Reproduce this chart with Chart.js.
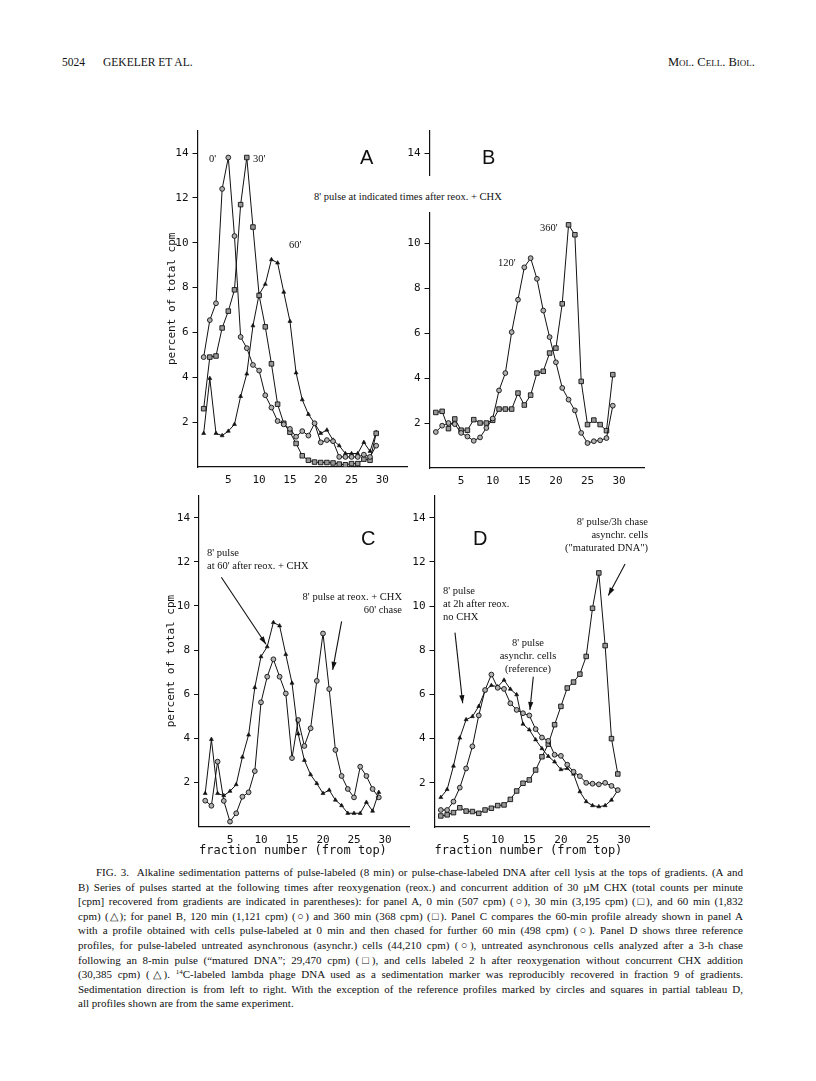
<!DOCTYPE html>
<html>
<head>
<meta charset="utf-8">
<script src="https://cdn.jsdelivr.net/npm/chart.js@4.4.1/dist/chart.umd.min.js"></script>
<style>
  body { margin: 0; width: 816px; height: 1081px; background: #fff; position: relative; overflow: hidden;
         font-family: "Liberation Serif", "Times New Roman", serif; color: #111; }
  canvas { position: absolute; }
  .t { position: absolute; white-space: nowrap; font-size: 10.5px; line-height: 12px; }
  .letter { position: absolute; font-family: "Liberation Sans", Arial, sans-serif; font-size: 20px; line-height: 20px; }
  .hdr { position: absolute; top: 55px; font-size: 11.5px; line-height: 14px; }
  .cap { position: absolute; left: 78px; top: 865px; width: 665px; font-size: 11px; }
  .cap div { height: 14.6px; line-height: 14.6px; white-space: nowrap; text-align: justify; text-align-last: justify; }
  .cap sup { font-size: 7px; line-height: 0; vertical-align: baseline; position: relative; top: -4px; }
</style>
</head>
<body>

<div class="hdr" style="left:62px">5024</div>
<div class="hdr" style="left:103px">GEKELER ET AL.</div>
<div class="hdr" style="left:668px;font-size:12.5px;font-variant:small-caps">Mol. Cell. Biol.</div>

<canvas id="chartA" width="260" height="380" style="left:160px;top:120px"></canvas>
<canvas id="chartB" width="260" height="380" style="left:400px;top:120px"></canvas>
<canvas id="chartC" width="260" height="380" style="left:160px;top:485px"></canvas>
<canvas id="chartD" width="260" height="380" style="left:400px;top:485px"></canvas>

<!-- panel letters and labels -->
<div class="letter" style="left:360px;top:147px">A</div>
<div class="letter" style="left:482px;top:147px">B</div>
<div class="letter" style="left:361px;top:528px">C</div>
<div class="letter" style="left:473px;top:528px">D</div>

<div class="t" style="left:209px;top:153px">0'</div>
<div class="t" style="left:253px;top:153px">30'</div>
<div class="t" style="left:289px;top:239px">60'</div>
<div class="t" style="left:312px;top:176px;padding:15px 2px 9px 2px;background:#fff">8' pulse at indicated times after reox. + CHX</div>
<div class="t" style="left:498px;top:257px">120'</div>
<div class="t" style="left:540px;top:222px">360'</div>

<div class="t" style="left:207px;top:547px">8' pulse</div>
<div class="t" style="left:207px;top:560px">at 60' after reox. + CHX</div>
<div class="t" style="left:270px;top:591px;width:132px;text-align:right">8' pulse at reox. + CHX</div>
<div class="t" style="left:270px;top:604px;width:132px;text-align:right">60' chase</div>

<div class="t" style="left:540px;top:516px;width:108px;text-align:right">8' pulse/3h chase</div>
<div class="t" style="left:540px;top:529px;width:108px;text-align:right">asynchr. cells</div>
<div class="t" style="left:540px;top:542px;width:108px;text-align:right">("maturated DNA")</div>
<div class="t" style="left:443px;top:585px">8' pulse</div>
<div class="t" style="left:443px;top:598px">at 2h after reox.</div>
<div class="t" style="left:443px;top:611px">no CHX</div>
<div class="t" style="left:478px;top:637px;width:100px;text-align:center">8' pulse</div>
<div class="t" style="left:478px;top:650px;width:100px;text-align:center">asynchr. cells</div>
<div class="t" style="left:478px;top:663px;width:100px;text-align:center">(reference)</div>

<div class="cap">
  <div style="padding-left:18px">FIG. 3.&nbsp; Alkaline sedimentation patterns of pulse-labeled (8 min) or pulse-chase-labeled DNA after cell lysis at the tops of gradients. (A and</div>
  <div>B) Series of pulses started at the following times after reoxygenation (reox.) and concurrent addition of 30 µM CHX (total counts per minute</div>
  <div>[cpm] recovered from gradients are indicated in parentheses): for panel A, 0 min (507 cpm) (○), 30 min (3,195 cpm) (□), and 60 min (1,832</div>
  <div>cpm) (△); for panel B, 120 min (1,121 cpm) (○) and 360 min (368 cpm) (□). Panel C compares the 60-min profile already shown in panel A</div>
  <div>with a profile obtained with cells pulse-labeled at 0 min and then chased for further 60 min (498 cpm) (○). Panel D shows three reference</div>
  <div>profiles, for pulse-labeled untreated asynchronous (asynchr.) cells (44,210 cpm) (○), untreated asynchronous cells analyzed after a 3-h chase</div>
  <div>following an 8-min pulse (“matured DNA”; 29,470 cpm) (□), and cells labeled 2 h after reoxygenation without concurrent CHX addition</div>
  <div>(30,385 cpm) (△). <sup>14</sup>C-labeled lambda phage DNA used as a sedimentation marker was reproducibly recovered in fraction 9 of gradients.</div>
  <div>Sedimentation direction is from left to right. With the exception of the reference profiles marked by circles and squares in partial tableau D,</div>
  <div style="text-align-last:left">all profiles shown are from the same experiment.</div>
</div>

<script>
// fraction numbers (from top of gradient)
const fractions = [1, 2, 3, 4, 5, 6, 7, 8, 9, 10, 11, 12, 13, 14, 15, 16, 17, 18, 19, 20, 21, 22, 23, 24, 25, 26, 27, 28, 29];
const xTicks = [5, 10, 15, 20, 25, 30];
const yTicks = [2, 4, 6, 8, 10, 12, 14];

// panel A: 8' pulse at 0', 30', 60' after reox. + CHX
const pulse0 = [4.9, 6.55, 7.3, 12.4, 13.8, 10.3, 5.8, 5.3, 4.55, 4.3, 3.2, 2.65, 2.05, 1.9, 1.7, 1.35, 1.6, 1.4, 1.95, 1.1, 1.2, 1.15, 0.45, 0.45, 0.45, 0.45, 0.55, 0.45, 0.95];
const pulse30 = [2.6, 4.9, 4.95, 6.2, 6.95, 7.9, 11.7, 13.8, 10.7, 7.65, 6.25, 4.6, 2.8, 1.95, 1.55, 1.05, 0.5, 0.3, 0.22, 0.2, 0.2, 0.18, 0.13, 0.1, 0.15, 0.15, 0.35, 0.3, 1.5];
const pulse60 = [1.5, 3.95, 1.5, 1.4, 1.6, 1.9, 3.15, 4.15, 6.3, 7.7, 8.15, 9.25, 9.1, 7.8, 6.5, 4.2, 3.0, 2.35, 1.95, 1.5, 1.65, 1.2, 0.95, 0.6, 0.6, 0.6, 1.1, 0.7, 1.55];

// panel B: 120' and 360'
const pulse120 = [1.6, 1.88, 2.0, 1.95, 1.56, 1.4, 1.21, 1.36, 1.78, 2.2, 3.45, 4.22, 6.04, 7.48, 8.92, 9.33, 8.41, 7.0, 5.82, 4.7, 3.56, 3.04, 2.56, 1.56, 1.11, 1.19, 1.23, 1.33, 2.77];
const pulse360 = [2.47, 2.52, 1.75, 2.18, 1.68, 1.68, 2.15, 2.0, 2.0, 2.12, 2.62, 2.62, 2.62, 3.33, 2.8, 3.24, 4.22, 4.3, 5.11, 5.33, 7.3, 10.81, 10.37, 3.85, 1.93, 2.13, 1.93, 1.66, 4.15];

// panel C: pulse at reox. + CHX, 60' chase (the 60' pulse is reused from A)
const chase60 = [1.17, 0.94, 2.94, 1.16, 0.22, 0.6, 1.35, 1.55, 2.51, 5.63, 6.79, 7.58, 6.79, 6.03, 3.1, 4.83, 3.65, 4.45, 6.6, 8.75, 6.23, 3.47, 2.29, 1.7, 1.32, 2.71, 2.29, 1.7, 1.32];

// panel D: asynchr. reference, matured DNA, 2h after reox. no CHX
const asyncRef = [0.77, 0.77, 1.15, 1.78, 2.65, 3.65, 5.05, 6.2, 6.9, 6.3, 6.25, 5.6, 5.3, 5.15, 5.05, 4.43, 4.05, 3.9, 3.27, 3.22, 2.82, 2.5, 2.3, 2.0, 1.96, 1.93, 2.0, 1.86, 1.67];
const matured = [0.5, 0.55, 0.65, 0.87, 0.72, 0.7, 0.62, 0.77, 0.85, 0.97, 1.0, 1.25, 1.63, 1.98, 2.13, 2.58, 3.18, 3.75, 4.63, 5.46, 6.29, 6.56, 6.92, 7.72, 9.9, 11.5, 8.21, 4.0, 2.4];
const noChx2h = [1.34, 1.7, 2.76, 4.03, 4.86, 5.0, 5.46, 6.17, 6.41, 6.35, 6.65, 6.24, 5.99, 4.66, 4.4, 3.95, 3.55, 3.2, 2.95, 2.6, 2.65, 2.4, 1.6, 1.15, 0.97, 0.92, 0.97, 1.22, 1.67];

// annotation arrows, in data units [x1, y1, x2, y2]
const arrowsC = [[3.6, 11.3, 10.8, 8.26], [23.0, 9.3, 21.56, 7.1]];
const arrowsD = [[30.15, 11.9, 27.5, 10.48], [3.24, 8.8, 4.46, 5.6], [15.63, 6.8, 15.1, 5.3]];

const ink = "#111";
const mono = "'DejaVu Sans Mono', monospace";

const circle = { pointStyle: "circle", pointRadius: 2.4, pointBackgroundColor: "#b0b0b0", pointBorderColor: ink, pointBorderWidth: 0.9 };
const square = { pointStyle: "rect", pointRadius: 3.2, pointBackgroundColor: "#999", pointBorderColor: ink, pointBorderWidth: 0.9 };
const triangle = { pointStyle: "triangle", pointRadius: 2.3, pointBackgroundColor: ink, pointBorderColor: ink, pointBorderWidth: 0.6 };

function series(values, style) {
  return Object.assign({
    data: fractions.map((f, i) => ({ x: f, y: values[i] })),
    borderColor: ink,
    borderWidth: 1,
    tension: 0,
    fill: false
  }, style);
}

// draws the little arrows of panels C and D
const arrowPlugin = {
  id: "arrows",
  afterDatasetsDraw(chart, args, opts) {
    const list = opts.list || [];
    const { ctx, scales: { x, y } } = chart;
    ctx.save();
    ctx.strokeStyle = ink;
    ctx.fillStyle = ink;
    ctx.lineWidth = 1.1;
    list.forEach(a => {
      const x1 = x.getPixelForValue(a[0]), y1 = y.getPixelForValue(a[1]);
      const x2 = x.getPixelForValue(a[2]), y2 = y.getPixelForValue(a[3]);
      const ang = Math.atan2(y2 - y1, x2 - x1);
      ctx.beginPath();
      ctx.moveTo(x1, y1);
      ctx.lineTo(x2, y2);
      ctx.stroke();
      ctx.beginPath();
      ctx.moveTo(x2, y2);
      ctx.lineTo(x2 - 8 * Math.cos(ang) + 2.6 * Math.sin(ang), y2 - 8 * Math.sin(ang) - 2.6 * Math.cos(ang));
      ctx.lineTo(x2 - 8 * Math.cos(ang) - 2.6 * Math.sin(ang), y2 - 8 * Math.sin(ang) + 2.6 * Math.cos(ang));
      ctx.closePath();
      ctx.fill();
    });
    ctx.restore();
  }
};

function panel(id, p) {
  return new Chart(document.getElementById(id), {
    type: "line",
    data: { datasets: p.datasets },
    plugins: [arrowPlugin],
    options: {
      responsive: false,
      animation: false,
      devicePixelRatio: 1,
      layout: { autoPadding: false, padding: { left: 0, top: p.top, right: p.right, bottom: 0 } },
      plugins: { legend: { display: false }, tooltip: { enabled: false }, arrows: { list: p.arrows || [] } },
      scales: {
        x: {
          type: "linear", min: 0, max: 34,
          afterFit(s) { s.height = p.xh; },
          afterBuildTicks(s) { s.ticks = xTicks.map(v => ({ value: v })); },
          border: { color: ink, width: 1.2 },
          grid: { display: false, drawTicks: false },
          ticks: { color: ink, padding: 7, maxRotation: 0, autoSkip: false, font: { family: mono, size: 11 } },
          title: { display: !!p.xTitle, text: p.xTitle || "", align: "start", color: ink,
                   padding: { top: 0, bottom: 6.8 }, font: { family: mono, size: 12 } }
        },
        y: {
          min: 0, max: 15,
          afterFit(s) { s.width = p.yw; },
          afterBuildTicks(s) { s.ticks = yTicks.map(v => ({ value: v })); },
          border: { color: ink, width: 1.2 },
          grid: { drawOnChartArea: false, drawTicks: true, tickLength: 5, color: ink, lineWidth: 1 },
          ticks: { color: ink, padding: 4, font: { family: mono, size: 11 } },
          title: { display: !!p.yTitle, text: p.yTitle || "", color: ink,
                   padding: { top: p.yTitlePad || 0, bottom: 0 }, font: { family: mono, size: 11 } }
        }
      }
    }
  });
}

panel("chartA", {
  top: 9.5, right: 13, xh: 33, yw: 37.5,
  yTitle: "percent of total cpm", yTitlePad: 5.4,
  datasets: [series(pulse0, circle), series(pulse30, square), series(pulse60, triangle)]
});

panel("chartB", {
  top: 10.5, right: 15.6, xh: 32, yw: 29.5,
  datasets: [series(pulse120, circle), series(pulse360, square)]
});

panel("chartC", {
  top: 10, right: 10.2, xh: 38.5, yw: 39,
  yTitle: "percent of total cpm", yTitlePad: 4.9,
  xTitle: "fraction number (from top)",
  arrows: arrowsC,
  datasets: [series(pulse60, triangle), series(chase60, circle)]
});

panel("chartD", {
  top: 10.5, right: 10.6, xh: 38, yw: 34.5,
  xTitle: "fraction number (from top)",
  arrows: arrowsD,
  datasets: [series(asyncRef, circle), series(matured, square), series(noChx2h, triangle)]
});
</script>
</body>
</html>
